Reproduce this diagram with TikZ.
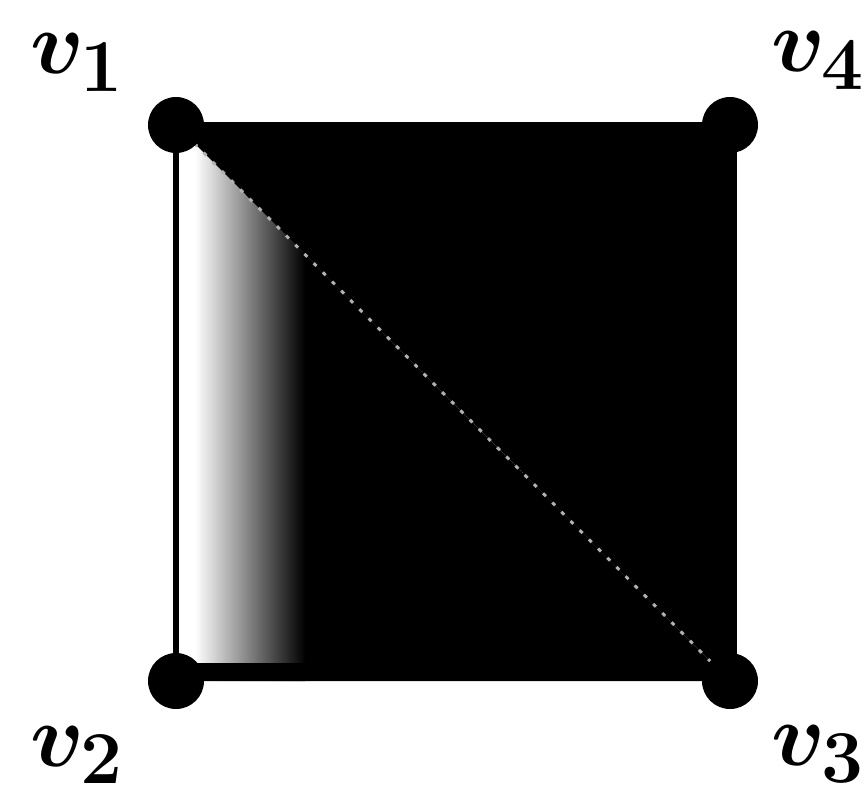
\documentclass[tikz,border=0pt]{standalone}
\usepackage{bm}
\newcommand{\biglab}[1]{\scalebox{3.6}{\Huge$#1$}}
\begin{document}
\begin{tikzpicture}[x=1pt,y=-1pt,
  dot/.style={circle,fill=black,inner sep=0pt,minimum size=56pt},
  lab/.style={inner sep=0pt,anchor=base west},
  edge/.style={line cap=butt}]
\useasboundingbox (0,0) rectangle (865,800);
\coordinate (c1) at (176,125);
\coordinate (c4) at (730,125);
\coordinate (c3) at (730,681);
\coordinate (c2) at (176,681);
% upper triangle
\fill[black] (c1) -- (c4) -- (c3) -- cycle;
% lower triangle with gradient
\begin{scope}
  \clip (c1) -- (c2) -- (c3) -- cycle;
  \fill[black] (c1) -- (c2) -- (c3) -- cycle;
  \fill[white] (160,100) rectangle (196,700);
  \shade[left color=white,right color=black] (195,100) rectangle (305,700);
\end{scope}
% diagonal speckle line
\draw[gray!60,line width=3pt,dash pattern=on 4pt off 9pt] (c1) -- (c3);
% edges
\draw[edge,line width=6pt] (c1) -- (c4);
\draw[edge,line width=14pt] ([yshift=-3pt]c4) -- (c3);
\draw[edge,line width=18pt] ([yshift=9pt]c2) -- ([yshift=9pt]c3);
\draw[edge,line width=6pt] (c1) -- (c2);
% vertices
\node[dot] (v1) at (c1) {};
\node[dot] (v4) at (c4) {};
\node[dot] (v3) at (c3) {};
\node[dot] (v2) at (c2) {};
% labels
\node[lab] (l1) at (30,74) {\biglab{\bm{v}_{\bm{1}}}};
\node[lab] (l4) at (771,72) {\biglab{\bm{v}_{\bm{4}}}};
\node[lab] (l2) at (30,766) {\biglab{\bm{v}_{\bm{2}}}};
\node[lab] (l3) at (771,765) {\biglab{\bm{v}_{\bm{3}}}};
\end{tikzpicture}
\end{document}
